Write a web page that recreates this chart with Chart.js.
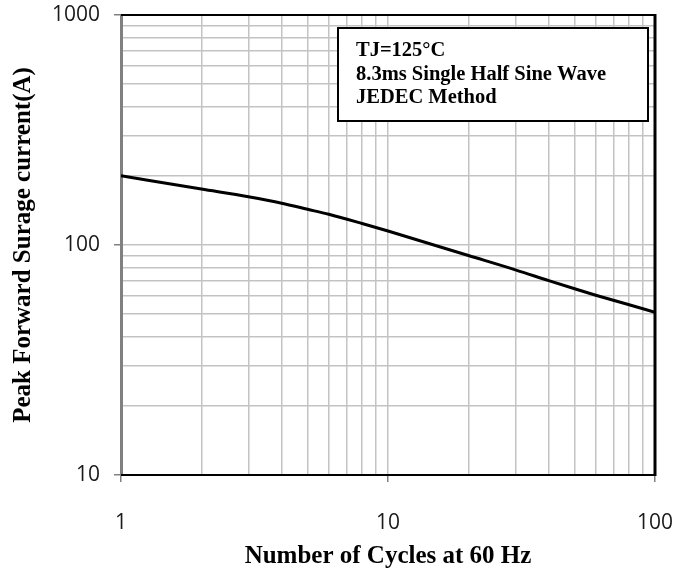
<!DOCTYPE html>
<html>
<head>
<meta charset="utf-8">
<script src="https://cdn.jsdelivr.net/npm/chart.js@4.4.1/dist/chart.umd.min.js"></script>
<style>
  html, body { margin: 0; padding: 0; background: #ffffff; }
  #wrap { width: 692px; height: 588px; position: relative; }
</style>
</head>
<body>
<div id="wrap"><canvas id="c" width="692" height="588"></canvas></div>
<script>
// ---- data ----
const cycles  = [1, 2, 3, 4, 5, 6, 8, 10, 20, 30, 40, 50, 60, 80, 100];
const current = [200, 175, 162, 152, 143, 136, 124, 115, 90, 78, 70, 64.5, 60.5, 55, 51];
const xGridValues = [1,2,3,4,5,6,7,8,9,10,20,30,40,50,60,70,80,90,100];
const yGridValues = [10,20,30,40,50,60,70,80,90,100,200,300,400,500,600,700,800,900,1000];
const xTickLabels = [1, 10, 100];
const yTickLabels = [10, 100, 1000];
const xTitle = 'Number of Cycles at 60 Hz';
const yTitle = 'Peak Forward Surage current(A)';
const noteLines = ['TJ=125°C', '8.3ms Single Half Sine Wave', 'JEDEC Method'];

const points = cycles.map((c, i) => ({ x: c, y: current[i] }));

const gridColor = '#c3c3c3';
const tickFont = { family: "'Open Sans', 'Noto Sans', sans-serif", size: 21 };
const titleFont = { family: "'Liberation Serif', 'Times New Roman', serif", size: 25, weight: 'bold' };

const framePlugin = {
  id: 'frame',
  afterDatasetsDraw(chart) {
    const { ctx, chartArea: a } = chart;
    ctx.save();
    ctx.strokeStyle = '#000';
    ctx.lineWidth = 2;
    ctx.beginPath();
    ctx.moveTo(a.left, a.top);
    ctx.lineTo(a.right, a.top);
    ctx.moveTo(a.left, a.bottom);
    ctx.lineTo(a.right, a.bottom);
    ctx.stroke();
    ctx.lineWidth = 3;
    ctx.beginPath();
    ctx.moveTo(a.right, a.top - 1);
    ctx.lineTo(a.right, a.bottom + 1);
    ctx.stroke();
    ctx.restore();
  },
  afterDraw(chart) {
    const { ctx, chartArea: a } = chart;
    const bx = a.right - 317, by = a.top + 13, bw = 310, bh = 93;
    ctx.save();
    ctx.fillStyle = '#fff';
    ctx.fillRect(bx, by, bw, bh);
    ctx.strokeStyle = '#000';
    ctx.lineWidth = 2;
    ctx.strokeRect(bx, by, bw, bh);
    ctx.fillStyle = '#000';
    ctx.font = "bold 20.5px 'Liberation Serif', 'Times New Roman', serif";
    ctx.textBaseline = 'alphabetic';
    ctx.textAlign = 'left';
    const offs = [28, 52, 75];
    noteLines.forEach((t, i) => ctx.fillText(t, bx + 18, by + offs[i]));
    ctx.restore();
  }
};

function gridTicks(values) {
  return function (scale) {
    scale.ticks = values.map(v => ({ value: v }));
  };
}

new Chart(document.getElementById('c'), {
  type: 'line',
  data: {
    datasets: [{
      data: points,
      borderColor: '#000',
      borderWidth: 3,
      pointRadius: 0,
      fill: false,
      cubicInterpolationMode: 'monotone'
    }]
  },
  options: {
    responsive: false,
    animation: false,
    devicePixelRatio: 1,
    layout: { padding: { top: 15, right: 37, left: 0, bottom: 0 } },
    plugins: { legend: { display: false }, tooltip: { enabled: false } },
    scales: {
      x: {
        type: 'logarithmic',
        position: 'bottom',
        min: 1, max: 100,
        afterBuildTicks: gridTicks(xGridValues),
        afterFit(scale) {
          scale.height = 113;
          scale.paddingLeft = 0; scale.paddingRight = 0;
          scale.paddingTop = 0; scale.paddingBottom = 0;
        },
        ticks: {
          autoSkip: false, maxRotation: 0, minRotation: 0,
          padding: 28, color: '#1a1a1a', font: tickFont,
          callback: (v) => xTickLabels.includes(v) ? String(v) : ''
        },
        grid: {
          color: gridColor, lineWidth: 1.5, tickLength: 7,
          tickColor: (ctx) => (ctx.tick && xTickLabels.includes(ctx.tick.value)) ? '#808080' : 'rgba(0,0,0,0)',
          tickWidth: 1.5
        },
        border: { color: '#808080', width: 2 },
        title: { display: true, text: xTitle, color: '#000', font: titleFont, padding: { top: 0, bottom: 16 } }
      },
      y: {
        type: 'logarithmic',
        position: 'left',
        min: 10, max: 1000,
        afterBuildTicks: gridTicks(yGridValues),
        afterFit(scale) {
          scale.width = 121;
          scale.paddingLeft = 0; scale.paddingRight = 0;
          scale.paddingTop = 0; scale.paddingBottom = 0;
        },
        ticks: {
          autoSkip: false, padding: 14, color: '#1a1a1a', font: tickFont,
          callback: (v) => yTickLabels.includes(v) ? String(v) : ''
        },
        grid: {
          color: gridColor, lineWidth: 1.5, tickLength: 7,
          tickColor: (ctx) => (ctx.tick && yTickLabels.includes(ctx.tick.value)) ? '#808080' : 'rgba(0,0,0,0)',
          tickWidth: 1.5
        },
        border: { color: '#808080', width: 3 },
        title: { display: true, text: yTitle, color: '#000', font: titleFont, padding: { top: 9, bottom: 0 } }
      }
    }
  },
  plugins: [framePlugin]
});
</script>
</body>
</html>
